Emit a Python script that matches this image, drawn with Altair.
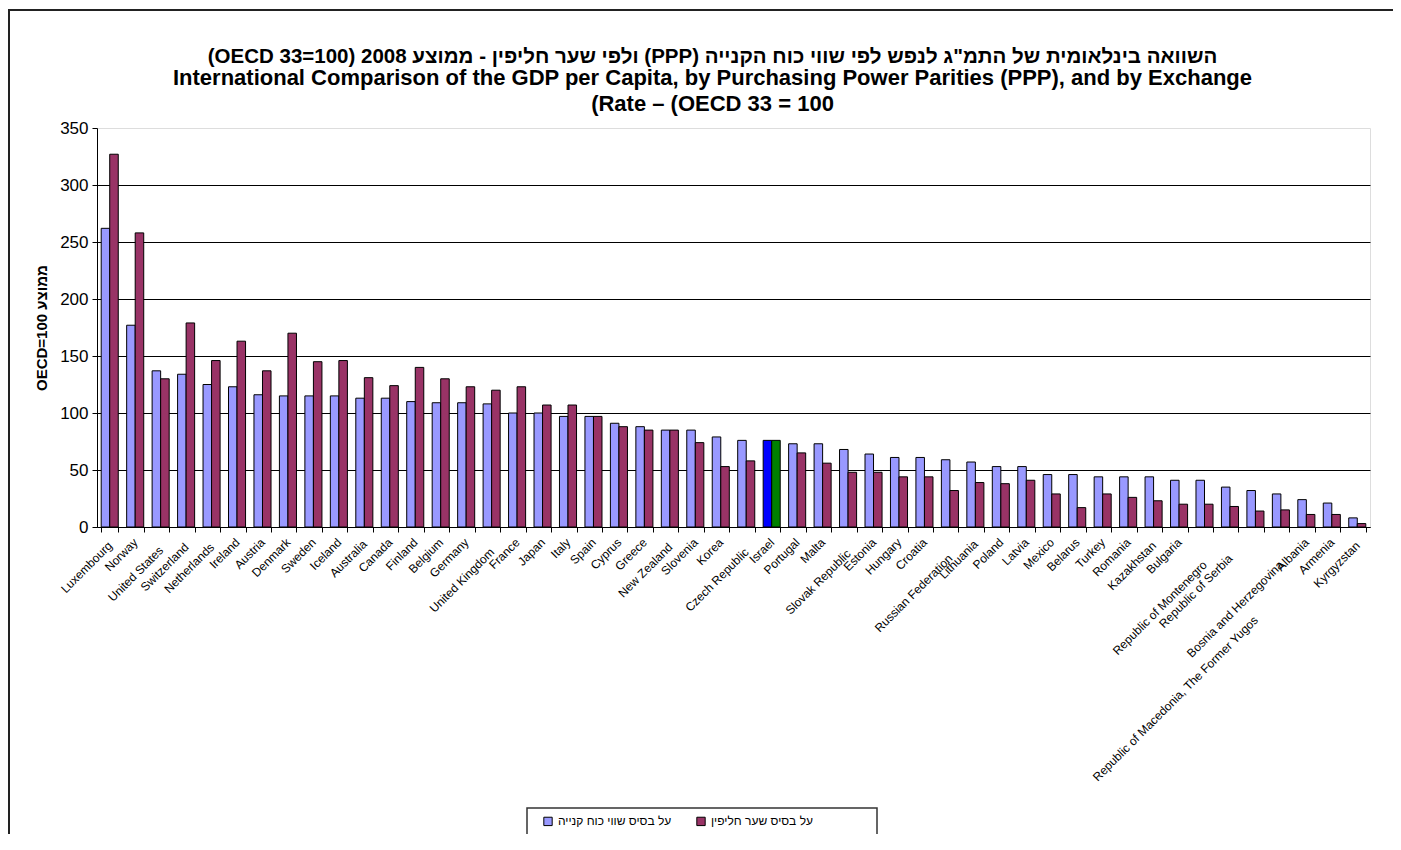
import altair as alt
import pandas as pd

countries = [
    "Luxembourg", "Norway", "United States", "Switzerland", "Netherlands", "Ireland",
    "Austria", "Denmark", "Sweden", "Iceland", "Australia", "Canada", "Finland",
    "Belgium", "Germany", "United Kingdom", "France", "Japan", "Italy", "Spain",
    "Cyprus", "Greece", "New Zealand", "Slovenia", "Korea", "Czech Republic",
    "Israel", "Portugal", "Malta", "Slovak Republic", "Estonia", "Hungary",
    "Croatia", "Russian Federation", "Lithuania", "Poland", "Latvia", "Mexico",
    "Belarus", "Turkey", "Romania", "Kazakhstan", "Bulgaria",
    "Republic of Montenegro", "Republic of Serbia",
    "Republic of Macedonia, The Former Yugos", "Bosnia and Herzegovina",
    "Albania", "Armenia", "Kyrgyzstan",
]
ppp = [262, 177, 137, 134, 125, 123, 116, 115, 115, 115,
       113, 113, 110, 109, 109, 108, 100, 100, 97, 97,
       91, 88, 85, 85, 79, 76, 76, 73, 73, 68,
       64, 61, 61, 59, 57, 53, 53, 46, 46, 44,
       44, 44, 41, 41, 35, 32, 29, 24, 21, 8]
xr = [327, 258, 130, 179, 146, 163, 137, 170, 145, 146,
      131, 124, 140, 130, 123, 120, 123, 107, 107, 97,
      88, 85, 85, 74, 53, 58, 76, 65, 56, 48,
      48, 44, 44, 32, 39, 38, 41, 29, 17, 29,
      26, 23, 20, 20, 18, 14, 15, 11, 11, 3]
series_names = ["על בסיס שווי כוח קנייה", "על בסיס שער חליפין"]
series_colors = ["#9999FF", "#993366"]
highlight_country = "Israel"
highlight_colors = ["#0000FF", "#008000"]
y_ticks = [0, 50, 100, 150, 200, 250, 300, 350]

title_he = "\u202bהשוואה בינלאומית של התמ\"ג לנפש לפי שווי כוח הקנייה (PPP) ולפי שער חליפין - ממוצע 2008 (OECD 33=100)\u202c"
title_en = [
    "International Comparison of the GDP per Capita, by Purchasing Power Parities (PPP), and by  Exchange",
    "(Rate – (OECD 33 = 100",
]
y_title = "OECD=100 ממוצע"

rows = []
for i, c in enumerate(countries):
    rows.append({"country": c, "series": series_names[0], "value": ppp[i]})
    rows.append({"country": c, "series": series_names[1], "value": xr[i]})
df = pd.DataFrame(rows)

W, H = 1273, 399
FONT = "'Liberation Sans Narrow', 'Arial Narrow', 'Liberation Sans', Arial, sans-serif"
BFONT = "'Liberation Sans', Arial, sans-serif"

bars = alt.Chart(df).mark_bar(stroke="black", strokeWidth=1).encode(
    x=alt.X(
        "country:N", sort=countries,
        scale=alt.Scale(paddingInner=0.33, paddingOuter=0.165),
        axis=alt.Axis(
            title=None, labelAngle=-45, labelAlign="right", labelBaseline="middle",
            labelFont=FONT, labelFontSize=12, labelColor="black", labelOverlap=False,
            labelPadding=alt.ExprRef(
                "8 + 1.6 * max(0, length(datum.label) - 8) + (length(datum.label) > 30 ? 28 : 0)"
            ),
            labelLimit=400, tickBand="extent", tickSize=5,
            tickColor="black", domainColor="black", grid=False,
        ),
    ),
    xOffset=alt.XOffset("series:N", sort=series_names,
                        scale=alt.Scale(domain=series_names, paddingInner=0, paddingOuter=0)),
    y=alt.Y(
        "value:Q", scale=alt.Scale(domain=[0, 350], nice=False),
        axis=alt.Axis(
            values=y_ticks, title=y_title, titleFont=BFONT, titleFontSize=15,
            titleFontWeight="bold", titleColor="black", titlePadding=10,
            labelFont=FONT, labelFontSize=17, labelColor="black", labelPadding=4,
            tickSize=5, tickColor="black", domainColor="black",
            grid=True, gridColor="black", gridWidth=1,
            gridOpacity={"condition": {"test": "datum.value >= 350", "value": 0}, "value": 1},
        ),
    ),
    color=alt.Color(
        "series:N", sort=series_names,
        scale=alt.Scale(domain=series_names, range=series_colors),
        legend=alt.Legend(
            title=None, orient="none", legendX=445, legendY=687, direction="horizontal",
            symbolType="square", symbolSize=70, symbolStrokeColor="black",
            symbolStrokeWidth=1, labelFont=BFONT, labelFontSize=12, labelColor="black",
            columnPadding=22, labelLimit=300,
        ),
        condition=[
            {"test": f"datum.country === '{highlight_country}' && datum.series === '{series_names[0]}'",
             "value": highlight_colors[0]},
            {"test": f"datum.country === '{highlight_country}' && datum.series === '{series_names[1]}'",
             "value": highlight_colors[1]},
        ],
    ),
)

one = pd.DataFrame({"k": [0]})
frame = alt.Chart(one).mark_rect(fill="transparent", stroke="#222222", strokeWidth=2).encode(
    x=alt.value(-88), x2=alt.value(W + 200), y=alt.value(-118), y2=alt.value(H + 600)
)
legend_box = alt.Chart(one).mark_rect(fill="transparent", stroke="#333333", strokeWidth=1.5).encode(
    x=alt.value(430), x2=alt.value(780), y=alt.value(680), y2=alt.value(H + 600)
)

chart = alt.layer(frame, legend_box, bars).properties(
    width=W, height=H,
    autosize=alt.AutoSizeParams(type="none"),
    padding={"left": 89, "top": 120, "right": 23, "bottom": 307},
    title=alt.TitleParams(
        text=title_he, subtitle=title_en, anchor="middle", frame="group", dx=-21, offset=-106,
        font=BFONT, fontSize=20.5, fontWeight="bold", color="black",
        subtitleFont=BFONT, subtitleFontSize=22, subtitleFontWeight="bold",
        subtitleColor="black", subtitleLineHeight=26, subtitlePadding=1,
    ),
).configure_view(stroke="transparent").configure(background="white")

chart.save("out.html", embed_options={"renderer": "svg", "actions": False})
